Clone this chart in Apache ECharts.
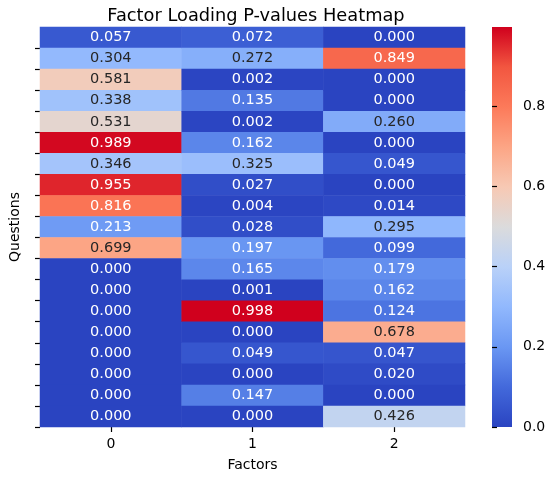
<!DOCTYPE html>
<html>
<head>
<meta charset="utf-8">
<script src="https://cdn.jsdelivr.net/npm/echarts@6/dist/echarts.min.js"></script>
<style>
html,body{margin:0;padding:0;background:#fff;}
#chart{width:550px;height:477px;}
</style>
</head>
<body>
<div id="chart"></div>
<script>
const factors = ['0', '1', '2'];
const questions = ['Q1','Q2','Q3','Q4','Q5','Q6','Q7','Q8','Q9','Q10','Q11','Q12','Q13','Q14','Q15','Q16','Q17','Q18','Q19'];
const factor0 = [0.057, 0.304, 0.581, 0.338, 0.531, 0.989, 0.346, 0.955, 0.816, 0.213, 0.699, 0.000, 0.000, 0.000, 0.000, 0.000, 0.000, 0.000, 0.000];
const factor1 = [0.072, 0.272, 0.002, 0.135, 0.002, 0.162, 0.325, 0.027, 0.004, 0.028, 0.197, 0.165, 0.001, 0.998, 0.000, 0.049, 0.000, 0.147, 0.000];
const factor2 = [0.000, 0.849, 0.000, 0.000, 0.260, 0.000, 0.049, 0.000, 0.014, 0.295, 0.099, 0.179, 0.162, 0.124, 0.678, 0.047, 0.020, 0.000, 0.426];
const colorbarTicks = [0.0, 0.2, 0.4, 0.6, 0.8];

const columns = [factor0, factor1, factor2];
const vMin = 0;
const vMax = Math.max(...factor0, ...factor1, ...factor2);

const palette = ['#2a44c1','#4369db','#6a97f3','#91b8fd','#b9d1f8','#dbdbdc','#f7c9b4','#fca585','#fc7a5a','#f25640','#d0001d'];

function textColor(v) {
  return (v < 0.24 || v > 0.75) ? '#ffffff' : '#262626';
}

const data = [];
columns.forEach(function (col, xi) {
  col.forEach(function (v, yi) {
    data.push({ value: [xi, yi, v], label: { color: textColor(v) } });
  });
});

const FONT = 'DejaVu Sans';
const gridLeft = 37, gridTop = 27, gridW = 428, gridH = 400;
const cbLeft = 492, cbW = 20;
const cbTickMax = colorbarTicks[colorbarTicks.length - 1];
const cbAxisH = gridH * cbTickMax / vMax;

const gradientStops = palette.map(function (c, i) {
  return { offset: i / (palette.length - 1), color: c };
});

const chart = echarts.init(document.getElementById('chart'), null, { renderer: 'canvas' });
chart.setOption({
  animation: false,
  backgroundColor: '#ffffff',
  textStyle: { fontFamily: FONT },
  title: {
    text: 'Factor Loading P-values Heatmap',
    left: gridLeft + gridW / 2,
    textAlign: 'center',
    top: 2,
    textStyle: { fontFamily: FONT, fontSize: 17.8, fontWeight: 'normal', color: '#000000' }
  },
  grid: [
    { left: gridLeft, top: gridTop, width: gridW, height: gridH },
    { left: cbLeft, top: gridTop + gridH - cbAxisH, width: cbW, height: cbAxisH }
  ],
  xAxis: [
    {
      type: 'category', gridIndex: 0, data: factors,
      name: 'Factors', nameLocation: 'middle', nameGap: 31,
      nameTextStyle: { fontFamily: FONT, fontSize: 14, color: '#000000' },
      axisLine: { show: false },
      axisTick: { show: true, alignWithLabel: true, length: 5, lineStyle: { color: '#000000', width: 1.2 } },
      axisLabel: { fontFamily: FONT, fontSize: 14, color: '#000000', margin: 10 },
      splitLine: { show: false }
    },
    { type: 'value', gridIndex: 1, show: false, min: 0, max: 1 }
  ],
  yAxis: [
    {
      type: 'category', gridIndex: 0, data: questions, inverse: true,
      name: 'Questions', nameLocation: 'middle', nameGap: 18, nameRotate: 90,
      nameTextStyle: { fontFamily: FONT, fontSize: 14, color: '#000000' },
      axisLine: { show: false },
      axisTick: { show: true, length: 5, interval: function (idx) { return idx !== 0; }, lineStyle: { color: '#000000', width: 1.2 } },
      axisLabel: { show: false },
      splitLine: { show: false }
    },
    {
      type: 'value', gridIndex: 1, position: 'right', min: colorbarTicks[0], max: cbTickMax, interval: 0.2,
      axisLine: { show: false },
      axisTick: { show: true, length: 5, lineStyle: { color: '#000000', width: 1.2 } },
      axisLabel: { fontFamily: FONT, fontSize: 14, color: '#000000', margin: 11, formatter: function (v) { return v.toFixed(1); } },
      splitLine: { show: false }
    }
  ],
  visualMap: {
    type: 'continuous',
    show: false,
    min: vMin,
    max: vMax,
    dimension: 2,
    seriesIndex: 0,
    inRange: { color: palette }
  },
  graphic: [{
    type: 'rect',
    left: cbLeft,
    top: gridTop,
    silent: true,
    z: 0,
    shape: { width: cbW, height: gridH },
    style: {
      fill: new echarts.graphic.LinearGradient(0, 1, 0, 0, gradientStops)
    }
  }],
  series: [{
    type: 'heatmap',
    xAxisIndex: 0,
    yAxisIndex: 0,
    data: data,
    label: {
      show: true,
      fontFamily: FONT,
      fontSize: 14.5,
      formatter: function (p) { return p.value[2].toFixed(3); }
    },
    itemStyle: { borderWidth: 0 },
    emphasis: { disabled: true }
  }]
});
</script>
</body>
</html>
